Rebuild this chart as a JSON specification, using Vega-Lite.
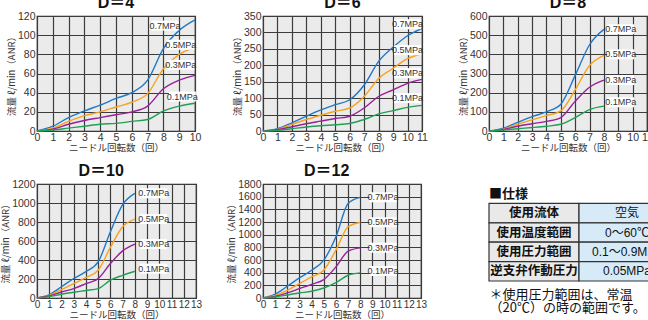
{
  "$schema": "https://vega.github.io/schema/vega-lite/v6.json",
  "background": "white",
  "padding": {"left": 0, "top": -7, "right": -20, "bottom": 0},
  "config": {
    "view": {"fill": "#ebebeb", "stroke": "#222", "strokeWidth": 1.2},
    "axis": {"domain": false, "ticks": false, "grid": true, "gridColor": "#3c3c3c", "gridWidth": 1.2, "gridOpacity": 1,
      "labelFont": "Liberation Sans Narrow, Liberation Sans, sans-serif", "labelFontSize": 10.5, "labelColor": "#333", "labelPadding": 2, "labelOverlap": false, "labelFlush": false,
      "titleFont": "Noto Sans CJK JP", "titleFontSize": 9.5, "titleFontWeight": "normal", "titleColor": "#333"},
    "axisX": {"titlePadding": 0, "labelPadding": 1},
    "axisY": {"titlePadding": 1, "format": "d"},
    "title": {"font": "Liberation Sans, Noto Sans CJK JP", "fontSize": 16, "fontWeight": "bold", "color": "#111", "offset": 0.5},
    "line": {"interpolate": "monotone", "strokeWidth": 1.4},
    "text": {"font": "Liberation Sans Narrow, Liberation Sans, sans-serif", "fontSize": 9, "color": "#333"}
  },
  "datasets": {
    "flow": [
      {"D":4,"p":"0.7MPa","rev":0,"flow":0},{"D":4,"p":"0.7MPa","rev":1,"flow":5},{"D":4,"p":"0.7MPa","rev":2,"flow":14},{"D":4,"p":"0.7MPa","rev":3,"flow":21},{"D":4,"p":"0.7MPa","rev":4,"flow":27},{"D":4,"p":"0.7MPa","rev":5,"flow":34},{"D":4,"p":"0.7MPa","rev":6,"flow":40},{"D":4,"p":"0.7MPa","rev":7,"flow":53},{"D":4,"p":"0.7MPa","rev":8,"flow":86},{"D":4,"p":"0.7MPa","rev":9,"flow":105},{"D":4,"p":"0.7MPa","rev":10,"flow":116},
      {"D":4,"p":"0.5MPa","rev":0,"flow":0},{"D":4,"p":"0.5MPa","rev":1,"flow":3},{"D":4,"p":"0.5MPa","rev":2,"flow":10},{"D":4,"p":"0.5MPa","rev":3,"flow":16},{"D":4,"p":"0.5MPa","rev":4,"flow":20},{"D":4,"p":"0.5MPa","rev":5,"flow":25},{"D":4,"p":"0.5MPa","rev":6,"flow":30},{"D":4,"p":"0.5MPa","rev":7,"flow":39},{"D":4,"p":"0.5MPa","rev":8,"flow":65},{"D":4,"p":"0.5MPa","rev":9,"flow":80},{"D":4,"p":"0.5MPa","rev":10,"flow":87},
      {"D":4,"p":"0.3MPa","rev":0,"flow":0},{"D":4,"p":"0.3MPa","rev":1,"flow":2},{"D":4,"p":"0.3MPa","rev":2,"flow":7},{"D":4,"p":"0.3MPa","rev":3,"flow":11},{"D":4,"p":"0.3MPa","rev":4,"flow":14},{"D":4,"p":"0.3MPa","rev":5,"flow":17},{"D":4,"p":"0.3MPa","rev":6,"flow":20},{"D":4,"p":"0.3MPa","rev":7,"flow":26},{"D":4,"p":"0.3MPa","rev":8,"flow":44},{"D":4,"p":"0.3MPa","rev":9,"flow":53},{"D":4,"p":"0.3MPa","rev":10,"flow":58},
      {"D":4,"p":"0.1MPa","rev":0,"flow":0},{"D":4,"p":"0.1MPa","rev":1,"flow":1},{"D":4,"p":"0.1MPa","rev":2,"flow":3},{"D":4,"p":"0.1MPa","rev":3,"flow":5},{"D":4,"p":"0.1MPa","rev":4,"flow":7},{"D":4,"p":"0.1MPa","rev":5,"flow":8},{"D":4,"p":"0.1MPa","rev":6,"flow":10},{"D":4,"p":"0.1MPa","rev":7,"flow":12},{"D":4,"p":"0.1MPa","rev":8,"flow":21},{"D":4,"p":"0.1MPa","rev":9,"flow":26},{"D":4,"p":"0.1MPa","rev":10,"flow":29},
      {"D":6,"p":"0.7MPa","rev":0,"flow":0},{"D":6,"p":"0.7MPa","rev":1,"flow":7},{"D":6,"p":"0.7MPa","rev":2,"flow":25},{"D":6,"p":"0.7MPa","rev":3,"flow":45},{"D":6,"p":"0.7MPa","rev":4,"flow":64},{"D":6,"p":"0.7MPa","rev":5,"flow":80},{"D":6,"p":"0.7MPa","rev":6,"flow":95},{"D":6,"p":"0.7MPa","rev":7,"flow":140},{"D":6,"p":"0.7MPa","rev":8,"flow":212},{"D":6,"p":"0.7MPa","rev":9,"flow":255},{"D":6,"p":"0.7MPa","rev":10,"flow":290},{"D":6,"p":"0.7MPa","rev":11,"flow":312},
      {"D":6,"p":"0.5MPa","rev":0,"flow":0},{"D":6,"p":"0.5MPa","rev":1,"flow":5},{"D":6,"p":"0.5MPa","rev":2,"flow":20},{"D":6,"p":"0.5MPa","rev":3,"flow":35},{"D":6,"p":"0.5MPa","rev":4,"flow":48},{"D":6,"p":"0.5MPa","rev":5,"flow":60},{"D":6,"p":"0.5MPa","rev":6,"flow":70},{"D":6,"p":"0.5MPa","rev":7,"flow":105},{"D":6,"p":"0.5MPa","rev":8,"flow":160},{"D":6,"p":"0.5MPa","rev":9,"flow":191},{"D":6,"p":"0.5MPa","rev":10,"flow":220},{"D":6,"p":"0.5MPa","rev":11,"flow":235},
      {"D":6,"p":"0.3MPa","rev":0,"flow":0},{"D":6,"p":"0.3MPa","rev":1,"flow":4},{"D":6,"p":"0.3MPa","rev":2,"flow":13},{"D":6,"p":"0.3MPa","rev":3,"flow":22},{"D":6,"p":"0.3MPa","rev":4,"flow":30},{"D":6,"p":"0.3MPa","rev":5,"flow":38},{"D":6,"p":"0.3MPa","rev":6,"flow":45},{"D":6,"p":"0.3MPa","rev":7,"flow":70},{"D":6,"p":"0.3MPa","rev":8,"flow":105},{"D":6,"p":"0.3MPa","rev":9,"flow":125},{"D":6,"p":"0.3MPa","rev":10,"flow":145},{"D":6,"p":"0.3MPa","rev":11,"flow":157},
      {"D":6,"p":"0.1MPa","rev":0,"flow":0},{"D":6,"p":"0.1MPa","rev":1,"flow":2},{"D":6,"p":"0.1MPa","rev":2,"flow":7},{"D":6,"p":"0.1MPa","rev":3,"flow":12},{"D":6,"p":"0.1MPa","rev":4,"flow":16},{"D":6,"p":"0.1MPa","rev":5,"flow":19},{"D":6,"p":"0.1MPa","rev":6,"flow":23},{"D":6,"p":"0.1MPa","rev":7,"flow":35},{"D":6,"p":"0.1MPa","rev":8,"flow":52},{"D":6,"p":"0.1MPa","rev":9,"flow":62},{"D":6,"p":"0.1MPa","rev":10,"flow":72},{"D":6,"p":"0.1MPa","rev":11,"flow":78},
      {"D":8,"p":"0.7MPa","rev":0,"flow":0},{"D":8,"p":"0.7MPa","rev":1,"flow":15},{"D":8,"p":"0.7MPa","rev":2,"flow":45},{"D":8,"p":"0.7MPa","rev":3,"flow":75},{"D":8,"p":"0.7MPa","rev":4,"flow":100},{"D":8,"p":"0.7MPa","rev":5,"flow":140},{"D":8,"p":"0.7MPa","rev":6,"flow":290},{"D":8,"p":"0.7MPa","rev":7,"flow":450},{"D":8,"p":"0.7MPa","rev":8,"flow":530},
      {"D":8,"p":"0.5MPa","rev":0,"flow":0},{"D":8,"p":"0.5MPa","rev":1,"flow":10},{"D":8,"p":"0.5MPa","rev":2,"flow":35},{"D":8,"p":"0.5MPa","rev":3,"flow":58},{"D":8,"p":"0.5MPa","rev":4,"flow":80},{"D":8,"p":"0.5MPa","rev":5,"flow":105},{"D":8,"p":"0.5MPa","rev":6,"flow":215},{"D":8,"p":"0.5MPa","rev":7,"flow":342},{"D":8,"p":"0.5MPa","rev":8,"flow":395},
      {"D":8,"p":"0.3MPa","rev":0,"flow":0},{"D":8,"p":"0.3MPa","rev":1,"flow":8},{"D":8,"p":"0.3MPa","rev":2,"flow":25},{"D":8,"p":"0.3MPa","rev":3,"flow":38},{"D":8,"p":"0.3MPa","rev":4,"flow":50},{"D":8,"p":"0.3MPa","rev":5,"flow":70},{"D":8,"p":"0.3MPa","rev":6,"flow":155},{"D":8,"p":"0.3MPa","rev":7,"flow":228},{"D":8,"p":"0.3MPa","rev":8,"flow":265},
      {"D":8,"p":"0.1MPa","rev":0,"flow":0},{"D":8,"p":"0.1MPa","rev":1,"flow":5},{"D":8,"p":"0.1MPa","rev":2,"flow":12},{"D":8,"p":"0.1MPa","rev":3,"flow":18},{"D":8,"p":"0.1MPa","rev":4,"flow":25},{"D":8,"p":"0.1MPa","rev":5,"flow":35},{"D":8,"p":"0.1MPa","rev":6,"flow":70},{"D":8,"p":"0.1MPa","rev":7,"flow":112},{"D":8,"p":"0.1MPa","rev":8,"flow":130},
      {"D":10,"p":"0.7MPa","rev":0,"flow":0},{"D":10,"p":"0.7MPa","rev":1,"flow":35},{"D":10,"p":"0.7MPa","rev":2,"flow":118},{"D":10,"p":"0.7MPa","rev":3,"flow":205},{"D":10,"p":"0.7MPa","rev":4,"flow":278},{"D":10,"p":"0.7MPa","rev":5,"flow":380},{"D":10,"p":"0.7MPa","rev":6,"flow":697},{"D":10,"p":"0.7MPa","rev":7,"flow":983},{"D":10,"p":"0.7MPa","rev":8,"flow":1102},
      {"D":10,"p":"0.5MPa","rev":0,"flow":0},{"D":10,"p":"0.5MPa","rev":1,"flow":28},{"D":10,"p":"0.5MPa","rev":2,"flow":88},{"D":10,"p":"0.5MPa","rev":3,"flow":151},{"D":10,"p":"0.5MPa","rev":4,"flow":215},{"D":10,"p":"0.5MPa","rev":5,"flow":292},{"D":10,"p":"0.5MPa","rev":6,"flow":532},{"D":10,"p":"0.5MPa","rev":7,"flow":750},{"D":10,"p":"0.5MPa","rev":8,"flow":831},
      {"D":10,"p":"0.3MPa","rev":0,"flow":0},{"D":10,"p":"0.3MPa","rev":1,"flow":21},{"D":10,"p":"0.3MPa","rev":2,"flow":63},{"D":10,"p":"0.3MPa","rev":3,"flow":99},{"D":10,"p":"0.3MPa","rev":4,"flow":151},{"D":10,"p":"0.3MPa","rev":5,"flow":204},{"D":10,"p":"0.3MPa","rev":6,"flow":363},{"D":10,"p":"0.3MPa","rev":7,"flow":496},{"D":10,"p":"0.3MPa","rev":8,"flow":567},
      {"D":10,"p":"0.1MPa","rev":0,"flow":0},{"D":10,"p":"0.1MPa","rev":1,"flow":14},{"D":10,"p":"0.1MPa","rev":2,"flow":40},{"D":10,"p":"0.1MPa","rev":3,"flow":60},{"D":10,"p":"0.1MPa","rev":4,"flow":79},{"D":10,"p":"0.1MPa","rev":5,"flow":99},{"D":10,"p":"0.1MPa","rev":6,"flow":187},{"D":10,"p":"0.1MPa","rev":7,"flow":239},{"D":10,"p":"0.1MPa","rev":8,"flow":282},
      {"D":12,"p":"0.7MPa","rev":0,"flow":0},{"D":12,"p":"0.7MPa","rev":1,"flow":60},{"D":12,"p":"0.7MPa","rev":2,"flow":185},{"D":12,"p":"0.7MPa","rev":3,"flow":317},{"D":12,"p":"0.7MPa","rev":4,"flow":438},{"D":12,"p":"0.7MPa","rev":5,"flow":597},{"D":12,"p":"0.7MPa","rev":6,"flow":966},{"D":12,"p":"0.7MPa","rev":7,"flow":1494},{"D":12,"p":"0.7MPa","rev":8,"flow":1589},
      {"D":12,"p":"0.5MPa","rev":0,"flow":0},{"D":12,"p":"0.5MPa","rev":1,"flow":42},{"D":12,"p":"0.5MPa","rev":2,"flow":121},{"D":12,"p":"0.5MPa","rev":3,"flow":227},{"D":12,"p":"0.5MPa","rev":4,"flow":333},{"D":12,"p":"0.5MPa","rev":5,"flow":438},{"D":12,"p":"0.5MPa","rev":6,"flow":755},{"D":12,"p":"0.5MPa","rev":7,"flow":1125},{"D":12,"p":"0.5MPa","rev":8,"flow":1193},
      {"D":12,"p":"0.3MPa","rev":0,"flow":0},{"D":12,"p":"0.3MPa","rev":1,"flow":26},{"D":12,"p":"0.3MPa","rev":2,"flow":80},{"D":12,"p":"0.3MPa","rev":3,"flow":148},{"D":12,"p":"0.3MPa","rev":4,"flow":216},{"D":12,"p":"0.3MPa","rev":5,"flow":290},{"D":12,"p":"0.3MPa","rev":6,"flow":491},{"D":12,"p":"0.3MPa","rev":7,"flow":739},{"D":12,"p":"0.3MPa","rev":8,"flow":792},
      {"D":12,"p":"0.1MPa","rev":0,"flow":0},{"D":12,"p":"0.1MPa","rev":1,"flow":16},{"D":12,"p":"0.1MPa","rev":2,"flow":48},{"D":12,"p":"0.1MPa","rev":3,"flow":80},{"D":12,"p":"0.1MPa","rev":4,"flow":106},{"D":12,"p":"0.1MPa","rev":5,"flow":158},{"D":12,"p":"0.1MPa","rev":6,"flow":243},{"D":12,"p":"0.1MPa","rev":7,"flow":359},{"D":12,"p":"0.1MPa","rev":8,"flow":396}
    ],
    "labels": [
      {"D":4,"p":"0.7MPa","rev":8.1,"flow":110},{"D":4,"p":"0.5MPa","rev":9.1,"flow":90},{"D":4,"p":"0.3MPa","rev":9.1,"flow":69},{"D":4,"p":"0.1MPa","rev":9.2,"flow":36},
      {"D":6,"p":"0.7MPa","rev":10.0,"flow":325},{"D":6,"p":"0.5MPa","rev":10.0,"flow":246},{"D":6,"p":"0.3MPa","rev":10.0,"flow":176},{"D":6,"p":"0.1MPa","rev":10.0,"flow":100},
      {"D":8,"p":"0.7MPa","rev":9.17,"flow":531},{"D":8,"p":"0.5MPa","rev":9.17,"flow":400},{"D":8,"p":"0.3MPa","rev":9.17,"flow":266},{"D":8,"p":"0.1MPa","rev":9.17,"flow":150},
      {"D":10,"p":"0.7MPa","rev":9.54,"flow":1102},{"D":10,"p":"0.5MPa","rev":9.54,"flow":831},{"D":10,"p":"0.3MPa","rev":9.54,"flow":568},{"D":10,"p":"0.1MPa","rev":9.54,"flow":309},
      {"D":12,"p":"0.7MPa","rev":9.88,"flow":1590},{"D":12,"p":"0.5MPa","rev":9.88,"flow":1196},{"D":12,"p":"0.3MPa","rev":9.88,"flow":795},{"D":12,"p":"0.1MPa","rev":9.88,"flow":426}
    ],
    "cells": [
      {"row":"使用流体","col":"項目","t":"使用流体"},{"row":"使用流体","col":"値","t":"空気"},
      {"row":"使用温度範囲","col":"項目","t":"使用温度範囲"},{"row":"使用温度範囲","col":"値","t":"0～60℃"},
      {"row":"使用圧力範囲","col":"項目","t":"使用圧力範囲"},{"row":"使用圧力範囲","col":"値","t":"0.1～0.9MPa"},
      {"row":"逆支弁作動圧力","col":"項目","t":"逆支弁作動圧力"},{"row":"逆支弁作動圧力","col":"値","t":"0.05MPa"}
    ],
    "heading": [{"row":"仕様","col":"項目","t":"■仕様"}]
  },
  "columns": 3,
  "align": "none",
  "bounds": "flush",
  "spacing": {"row": 53, "column": 67},
  "concat": [
    {
      "width": 158, "height": 115,
      "title": {"text": "D＝4", "frame": "group"},
      "encoding": {
        "x": {"field": "rev", "type": "quantitative", "title": "ニードル回転数（回）", "scale": {"domain": [0,10], "nice": false}, "axis": {"values": [0,1,2,3,4,5,6,7,8,9,10]}},
        "y": {"field": "flow", "type": "quantitative", "title": "流量 ℓ/min（ANR）", "scale": {"domain": [0,120], "nice": false}, "axis": {"values": [0,20,40,60,80,100,120]}}
      },
      "layer": [
        {"data": {"name": "flow"}, "transform": [{"filter": "datum.D == 4"}], "mark": "line",
         "encoding": {"color": {"field": "p", "type": "nominal", "scale": {"domain": ["0.7MPa","0.5MPa","0.3MPa","0.1MPa"], "range": ["#1f78c8","#f7a21e","#9a1f9a","#20a055"]}, "legend": null}}},
        {"data": {"name": "labels"}, "transform": [{"filter": "datum.D == 4"}], "mark": {"type": "point", "shape": "M-1,-0.37H1V0.37H-1Z", "size": 729, "filled": true, "fill": "white", "opacity": 1, "strokeWidth": 0}},
        {"data": {"name": "labels"}, "transform": [{"filter": "datum.D == 4"}], "mark": "text", "encoding": {"text": {"field": "p"}}}
      ]
    },
    {
      "width": 159, "height": 115,
      "title": {"text": "D＝6", "frame": "group"},
      "encoding": {
        "x": {"field": "rev", "type": "quantitative", "title": "ニードル回転数（回）", "scale": {"domain": [0,11], "nice": false}, "axis": {"values": [0,1,2,3,4,5,6,7,8,9,10,11]}},
        "y": {"field": "flow", "type": "quantitative", "title": "流量 ℓ/min（ANR）", "scale": {"domain": [0,350], "nice": false}, "axis": {"values": [0,50,100,150,200,250,300,350]}}
      },
      "layer": [
        {"data": {"name": "flow"}, "transform": [{"filter": "datum.D == 6"}], "mark": "line",
         "encoding": {"color": {"field": "p", "type": "nominal", "scale": {"domain": ["0.7MPa","0.5MPa","0.3MPa","0.1MPa"], "range": ["#1f78c8","#f7a21e","#9a1f9a","#20a055"]}, "legend": null}}},
        {"data": {"name": "labels"}, "transform": [{"filter": "datum.D == 6"}], "mark": {"type": "point", "shape": "M-1,-0.37H1V0.37H-1Z", "size": 729, "filled": true, "fill": "white", "opacity": 1, "strokeWidth": 0}},
        {"data": {"name": "labels"}, "transform": [{"filter": "datum.D == 6"}], "mark": "text", "encoding": {"text": {"field": "p"}}}
      ]
    },
    {
      "width": 158, "height": 115,
      "title": {"text": "D＝8", "frame": "group"},
      "encoding": {
        "x": {"field": "rev", "type": "quantitative", "title": "ニードル回転数（回）", "scale": {"domain": [0,11], "nice": false}, "axis": {"values": [0,1,2,3,4,5,6,7,8,9,10,11]}},
        "y": {"field": "flow", "type": "quantitative", "title": "流量 ℓ/min（ANR）", "scale": {"domain": [0,600], "nice": false}, "axis": {"values": [0,100,200,300,400,500,600]}}
      },
      "layer": [
        {"data": {"name": "flow"}, "transform": [{"filter": "datum.D == 8"}], "mark": "line",
         "encoding": {"color": {"field": "p", "type": "nominal", "scale": {"domain": ["0.7MPa","0.5MPa","0.3MPa","0.1MPa"], "range": ["#1f78c8","#f7a21e","#9a1f9a","#20a055"]}, "legend": null}}},
        {"data": {"name": "labels"}, "transform": [{"filter": "datum.D == 8"}], "mark": {"type": "point", "shape": "M-1,-0.37H1V0.37H-1Z", "size": 729, "filled": true, "fill": "white", "opacity": 1, "strokeWidth": 0}},
        {"data": {"name": "labels"}, "transform": [{"filter": "datum.D == 8"}], "mark": "text", "encoding": {"text": {"field": "p"}}}
      ]
    },
    {
      "width": 159, "height": 114,
      "title": {"text": "D＝10", "frame": "bounds"},
      "encoding": {
        "x": {"field": "rev", "type": "quantitative", "title": "ニードル回転数（回）", "scale": {"domain": [0,13], "nice": false}, "axis": {"values": [0,1,2,3,4,5,6,7,8,9,10,11,12,13], "labelFontSize": 10}},
        "y": {"field": "flow", "type": "quantitative", "title": "流量 ℓ/min（ANR）", "scale": {"domain": [0,1200], "nice": false}, "axis": {"values": [0,200,400,600,800,1000,1200]}}
      },
      "layer": [
        {"data": {"name": "flow"}, "transform": [{"filter": "datum.D == 10"}], "mark": "line",
         "encoding": {"color": {"field": "p", "type": "nominal", "scale": {"domain": ["0.7MPa","0.5MPa","0.3MPa","0.1MPa"], "range": ["#1f78c8","#f7a21e","#9a1f9a","#20a055"]}, "legend": null}}},
        {"data": {"name": "labels"}, "transform": [{"filter": "datum.D == 10"}], "mark": {"type": "point", "shape": "M-1,-0.37H1V0.37H-1Z", "size": 729, "filled": true, "fill": "white", "opacity": 1, "strokeWidth": 0}},
        {"data": {"name": "labels"}, "transform": [{"filter": "datum.D == 10"}], "mark": "text", "encoding": {"text": {"field": "p"}}}
      ]
    },
    {
      "width": 158, "height": 114,
      "title": {"text": "D＝12", "frame": "bounds"},
      "encoding": {
        "x": {"field": "rev", "type": "quantitative", "title": "ニードル回転数（回）", "scale": {"domain": [0,13], "nice": false}, "axis": {"values": [0,1,2,3,4,5,6,7,8,9,10,11,12,13], "labelFontSize": 10}},
        "y": {"field": "flow", "type": "quantitative", "title": "流量 ℓ/min（ANR）", "scale": {"domain": [0,1800], "nice": false}, "axis": {"values": [0,200,400,600,800,1000,1200,1400,1600,1800]}}
      },
      "layer": [
        {"data": {"name": "flow"}, "transform": [{"filter": "datum.D == 12"}], "mark": "line",
         "encoding": {"color": {"field": "p", "type": "nominal", "scale": {"domain": ["0.7MPa","0.5MPa","0.3MPa","0.1MPa"], "range": ["#1f78c8","#f7a21e","#9a1f9a","#20a055"]}, "legend": null}}},
        {"data": {"name": "labels"}, "transform": [{"filter": "datum.D == 12"}], "mark": {"type": "point", "shape": "M-1,-0.37H1V0.37H-1Z", "size": 729, "filled": true, "fill": "white", "opacity": 1, "strokeWidth": 0}},
        {"data": {"name": "labels"}, "transform": [{"filter": "datum.D == 12"}], "mark": "text", "encoding": {"text": {"field": "p"}}}
      ]
    },
    {
      "width": 180, "height": 97,
      "view": {"stroke": null, "fill": null},
      "encoding": {
        "x": {"field": "col", "type": "nominal", "title": ["＊使用圧力範囲は、常温", "（20℃）の時の範囲です。"],
              "scale": {"domain": ["項目","値"], "paddingInner": 0, "paddingOuter": 0},
              "axis": {"labels": false, "ticks": false, "domain": false, "grid": false, "titleAnchor": "start", "titleAlign": "left", "titleFont": "Noto Sans CJK JP", "titleFontSize": 13, "titleColor": "#111", "titleLineHeight": 13, "titlePadding": 7}},
        "y": {"field": "row", "type": "nominal", "scale": {"domain": ["仕様","使用流体","使用温度範囲","使用圧力範囲","逆支弁作動圧力"], "paddingInner": 0, "paddingOuter": 0}, "axis": null}
      },
      "layer": [
        {"data": {"name": "cells"}, "mark": {"type": "rect", "stroke": "#333", "strokeWidth": 1.2},
         "encoding": {"fill": {"field": "col", "type": "nominal", "scale": {"domain": ["項目","値"], "range": ["#e9e9e9","#d6eaf8"]}, "legend": null}}},
        {"data": {"name": "cells"}, "transform": [{"filter": "datum.col == '項目'"}],
         "mark": {"type": "text", "font": "Noto Sans CJK JP", "fontSize": 12.5, "fontWeight": "bold", "color": "#111"},
         "encoding": {"text": {"field": "t"}}},
        {"data": {"name": "cells"}, "transform": [{"filter": "datum.col == '値'"}],
         "mark": {"type": "text", "font": "Liberation Sans Narrow, Liberation Sans, Noto Sans CJK JP, sans-serif", "fontSize": 12, "color": "#111", "dx": 3},
         "encoding": {"text": {"field": "t"}}},
        {"data": {"name": "heading"},
         "mark": {"type": "text", "align": "left", "font": "Noto Sans CJK JP", "fontSize": 13, "fontWeight": "bold", "color": "#111"},
         "encoding": {"x": {"field": "col", "type": "nominal", "bandPosition": 0, "title": ["＊使用圧力範囲は、常温", "（20℃）の時の範囲です。"]}, "text": {"field": "t"}}}
      ]
    }
  ]
}
